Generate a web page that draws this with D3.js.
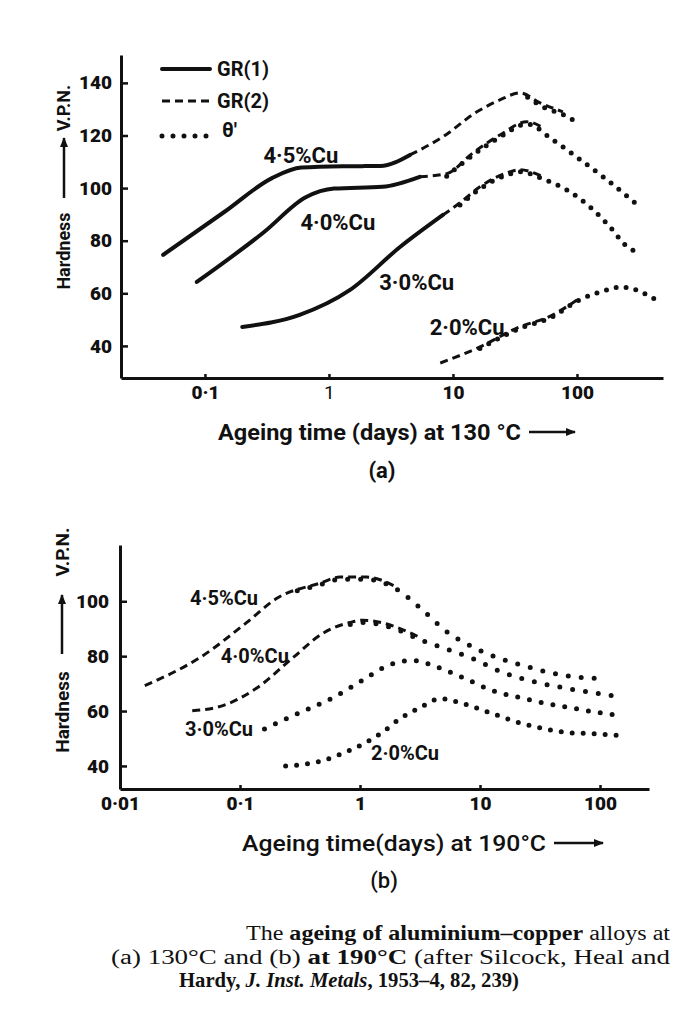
<!DOCTYPE html>
<html>
<head>
<meta charset="utf-8">
<script src="https://cdn.jsdelivr.net/npm/d3@7"></script>
<style>
body { margin: 0; background: #fff; }
svg { display: block; }
text { font-family: Roboto, "Open Sans", sans-serif; fill: #111; }
</style>
</head>
<body>
<div id="chart"></div>
<script>
const width = 679
const height = 1032

// ---------- (a) ageing at 130 °C ----------
const ticksA_x = [0.1, 1, 10, 100]
const tickLabelsA_x = ["0·1", "1", "10", "100"]
const ticksA_y = [40, 60, 80, 100, 120, 140]

// [days, VPN]  gr1 = solid, gr2 = dashed, th = dotted (θ')
const a45_gr1 = [[0.046,74.6],[0.145,91.1],[0.35,103.9],[0.6,107.8],[1.3,108.3],[2.6,108.4],[4.5,112.6]]
const a45_gr2 = [[4.5,112.6],[8.3,119.5],[15.6,129],[23.9,133.5],[34.7,136.2],[50.4,132.4],[77,129]]
const a45_th  = [[40,134.5],[55,130.5],[77,128],[93,125.9]]

const a40_gr1 = [[0.086,64.3],[0.3,83.3],[0.65,96.5],[1.1,99.8],[2.7,100.5],[5.4,104.3]]
const a40_gr2 = [[5.4,104.3],[8.9,105.5],[14.5,113.4],[23.9,120.2],[39.5,125.2],[55,122.5]]
const a40_th  = [[8.9,104.5],[14.5,112.6],[23.9,119.4],[39.5,124.4],[64,118.3],[112,110],[175,103.1],[294,94.4]]

const a30_gr1 = [[0.2,47.2],[0.58,51.8],[1.48,61.3],[3.74,77.6],[8.3,89.8]]
const a30_gr2 = [[8.3,89.8],[11.4,94.4],[16.5,100.5],[27.3,105.8],[34.7,107],[53,104.3]]
const a30_th  = [[11.4,93.6],[16.5,99.7],[27.3,105],[34.7,106.2],[53,103.5],[83,99.3],[127,92.9],[185,85.2],[250,78],[300,75.8]]

const a20_gr2 = [[7.9,33.5],[16.5,39.6],[32.8,46.8],[64,51.8],[100,57.5]]
const a20_th  = [[16.5,39],[32.8,46.2],[64,51.2],[100,57],[175,61.3],[222,62.4],[283,61.7],[367,59.4],[467,56.7]]

const labelsA = ["4·5%Cu", "4·0%Cu", "3·0%Cu", "2·0%Cu"]
const labelPosA = [[0.594,112.6],[1.18,87.1],[5.1,64],[13,47.2]]

const legendLabels = ["GR(1)", "GR(2)", "θ'"]
const legendKinds = ["gr1", "gr2", "th"]

// ---------- (b) ageing at 190 °C ----------
const ticksB_x = [0.01, 0.1, 1, 10, 100]
const tickLabelsB_x = ["0·01", "0·1", "1", "10", "100"]
const ticksB_y = [40, 60, 80, 100]

const b45_gr2 = [[0.0161,69.3],[0.0464,79.5],[0.114,92.3],[0.203,101.1],[0.464,106.6],[0.68,108.8],[1.14,108.8],[2.03,105.1]]
const b45_th  = [[0.3,103.8],[0.464,106],[0.68,108],[1.14,108],[2.03,104.3],[3.35,96.7],[5.1,89.4],[8.25,83.9],[13.9,79.5],[22.8,76.6],[38.3,74],[70.8,72.2],[114,71.8]]

const b40_gr2 = [[0.04,60.1],[0.072,62],[0.139,68.5],[0.277,79.5],[0.49,88.3],[0.83,92.3],[1.06,93.1],[2.03,90.5],[3.16,86.8]]
const b40_th  = [[0.83,91.5],[1.06,92.3],[2.03,89.7],[3.16,86],[4.8,83.2],[8.6,79.2],[15.6,74],[29.9,70.4],[54,68.2],[100,66.3],[128,65.6]]

const b30_th  = [[0.16,53.5],[0.277,58.3],[0.596,64.9],[1.04,71.1],[1.52,75.5],[2.24,78.1],[2.77,78.4],[4.47,75.9],[7.2,72.2],[12.8,67.4],[21.5,64.9],[36.1,62.7],[61.9,60.9],[114,59],[152,58.3]]

const b20_th  = [[0.24,40],[0.33,40.5],[0.45,41.5],[0.62,43.5],[0.8,45.5],[1.04,47.8],[1.52,52.1],[2.15,57.2],[3.16,61.2],[4.64,64.5],[7.2,62.7],[12.8,59],[21.5,55.7],[34.8,53.5],[56,52.1],[94,51.7],[150,51]]

const labelsB = ["4·5%Cu", "4·0%Cu", "3·0%Cu", "2·0%Cu"]
const labelPosB = [[0.0736,101.1],[0.133,80.2],[0.0668,53.5],[2.37,44.8]]

const captionLines = [
  [["The ", "n"], ["ageing of aluminium–copper", "b"], [" alloys at", "n"]],
  [["(a) 130°C and (b) ", "n"], ["at 190°C", "b"], [" (after Silcock, Heal and", "n"]],
  [["Hardy, ", "b"], ["J. Inst. Metals", "i"], [", 1953–4, 82, 239)", "b"]]
]

const svg = d3.select("#chart")
  .append("svg")
    .attr("width", width)
    .attr("height", height)

svg.append("defs").append("marker")
    .attr("id", "arrow")
    .attr("viewBox", "0 0 10 10")
    .attr("refX", 9).attr("refY", 5)
    .attr("markerWidth", 4).attr("markerHeight", 4)
    .attr("orient", "auto")
  .append("path")
    .attr("d", "M0,1L10,5L0,9z")
    .attr("fill", "#111")

function styleCurve(p, kind, gap) {
  p.attr("fill", "none").attr("stroke", "#111")
  if (kind == "gr1") p.attr("stroke-width", 4).attr("stroke-linecap", "round")
  if (kind == "gr2") p.attr("stroke-width", 3).attr("stroke-dasharray", "8,5")
  if (kind == "th") p.attr("stroke-width", 5).attr("stroke-linecap", "round").attr("stroke-dasharray", "0," + gap)
  return p
}

function drawCurve(g, x, y, pts, kind, gap) {
  const line = d3.line()
    .x(d => x(d[0]))
    .y(d => y(d[1]))
    .curve(d3.curveMonotoneX)
  styleCurve(g.append("path").datum(pts).attr("d", line), kind, gap)
}

function drawAxes(g, x, y, xt, xl, yt, yPad) {
  const x0 = x.range()[0], y0 = y.range()[0]
  g.append("g")
    .attr("transform", `translate(${x0},0)`)
    .call(d3.axisLeft(y).tickValues(yt).tickSize(-7).tickSizeOuter(0).tickPadding(yPad))
  g.append("g")
    .attr("transform", `translate(0,${y0})`)
    .call(d3.axisBottom(x).tickValues(xt).tickFormat((d, i) => xl[i]).tickSize(-4).tickSizeOuter(0).tickPadding(8))
  g.selectAll(".domain").attr("stroke", "#111").attr("stroke-width", 3)
  g.selectAll(".tick line").attr("stroke", "#111").attr("stroke-width", 2.5)
  g.selectAll(".tick text").attr("fill", "#111").style("font-size", "19px").style("font-weight", "900")
}

function yTitle(g, cx, size, hardY, arrowFrom, arrowTo, vpnY) {
  const t = g.append("g").attr("transform", `translate(${cx},0) rotate(-90)`)
  t.append("text").attr("x", -hardY).attr("y", 0).attr("dy", "0.35em")
    .attr("text-anchor", "middle").style("font-size", size + "px").style("font-weight", "700").text("Hardness")
  t.append("line").attr("x1", -arrowFrom).attr("x2", -arrowTo).attr("y1", 0).attr("y2", 0)
    .attr("stroke", "#111").attr("stroke-width", 2.5).attr("marker-end", "url(#arrow)")
  t.append("text").attr("x", -vpnY).attr("y", 0).attr("dy", "0.35em")
    .attr("text-anchor", "middle").style("font-size", size + "px").style("font-weight", "700").text("V.P.N.")
}

function xTitle(g, x0, x1, yc, label, weight, arrowEnd) {
  g.append("text").attr("x", x0).attr("y", yc).attr("dy", "0.35em")
    .attr("textLength", x1 - x0).attr("lengthAdjust", "spacingAndGlyphs")
    .style("font-size", "22px").style("font-weight", weight).text(label)
  g.append("line").attr("x1", x1 + 8).attr("x2", arrowEnd).attr("y1", yc).attr("y2", yc)
    .attr("stroke", "#111").attr("stroke-width", 2.5).attr("marker-end", "url(#arrow)")
}

// ---------- panel (a) ----------
const xA = d3.scaleLog().domain([0.02104, 494]).range([121, 663])
const yA = d3.scaleLinear().domain([27.8, 150.6]).range([378, 55])
const gA = svg.append("g")

drawAxes(gA, xA, yA, ticksA_x, tickLabelsA_x, ticksA_y, 9)
gA.selectAll(".tick text").filter(d => d === 1).style("font-weight", "400").attr("fill", "#555")

const curvesA = [
  [a45_gr1, "gr1"], [a45_gr2, "gr2"], [a45_th, "th"],
  [a40_gr1, "gr1"], [a40_gr2, "gr2"], [a40_th, "th"],
  [a30_gr1, "gr1"], [a30_gr2, "gr2"], [a30_th, "th"],
  [a20_gr2, "gr2"], [a20_th, "th"]
]
curvesA.forEach(c => drawCurve(gA, xA, yA, c[0], c[1], 10))

gA.selectAll(".lab")
  .data(labelsA)
  .join("text")
    .attr("x", (d, i) => xA(labelPosA[i][0]))
    .attr("y", (d, i) => yA(labelPosA[i][1]))
    .attr("dy", "0.35em")
    .attr("text-anchor", "middle")
    .style("font-size", "22px")
    .style("font-weight", "700")
    .text(d => d)

// legend
const leg = gA.append("g")
legendKinds.forEach((k, i) => {
  const ly = [69, 101, 136][i]
  styleCurve(leg.append("path").attr("d", `M162,${ly}H210`), k, 11)
  leg.append("text").attr("x", i == 2 ? 222 : 217).attr("y", i == 2 ? ly - 6 : ly).attr("dy", "0.35em")
    .style("font-size", "20px").style("font-weight", "700").text(legendLabels[i])
})

yTitle(gA, 64, 18, 251, 198, 138, 108)
xTitle(gA, 218, 521, 432, "Ageing time (days) at 130 °C", "700", 575)
gA.append("text").attr("x", 382).attr("y", 470).attr("dy", "0.35em").attr("text-anchor", "middle")
  .style("font-size", "22px").style("font-weight", "700").text("(a)")

// ---------- panel (b) ----------
const xB = d3.scaleLog().domain([0.01, 256]).range([120, 649])
const yB = d3.scaleLinear().domain([31.6, 120.5]).range([789, 545])
const gB = svg.append("g")

drawAxes(gB, xB, yB, ticksB_x, tickLabelsB_x, ticksB_y, 11)

const curvesB = [
  [b45_gr2, "gr2", 12], [b45_th, "th", 13],
  [b40_gr2, "gr2", 12], [b40_th, "th", 13],
  [b30_th, "th", 12], [b20_th, "th", 11]
]
curvesB.forEach(c => drawCurve(gB, xB, yB, c[0], c[1], c[2]))

gB.selectAll(".lab")
  .data(labelsB)
  .join("text")
    .attr("x", (d, i) => xB(labelPosB[i][0]))
    .attr("y", (d, i) => yB(labelPosB[i][1]))
    .attr("dy", "0.35em")
    .attr("text-anchor", "middle")
    .style("font-size", "20px")
    .style("font-weight", "700")
    .text(d => d)

yTitle(gB, 62, 19, 712, 654, 595, 552)
xTitle(gB, 242, 546, 843, "Ageing time(days) at 190°C", "500", 603)
gB.append("text").attr("x", 384).attr("y", 880).attr("dy", "0.35em").attr("text-anchor", "middle")
  .style("font-size", "22px").style("font-weight", "500").text("(b)")

// ---------- caption ----------
const capX = [[246, 670], [111, 670], [179, 519]]
const capY = [940, 964, 987]
captionLines.forEach((line, i) => {
  const t = svg.append("text")
    .attr("x", capX[i][0]).attr("y", capY[i])
    .attr("textLength", capX[i][1] - capX[i][0])
    .attr("lengthAdjust", "spacingAndGlyphs")
    .style("font-family", "'Liberation Serif', 'DejaVu Serif', serif")
    .style("font-size", "20px")
  line.forEach(s => {
    t.append("tspan")
      .style("font-weight", s[1] == "n" ? "400" : "700")
      .style("font-style", s[1] == "i" ? "italic" : "normal")
      .text(s[0])
  })
})
</script>
</body>
</html>
